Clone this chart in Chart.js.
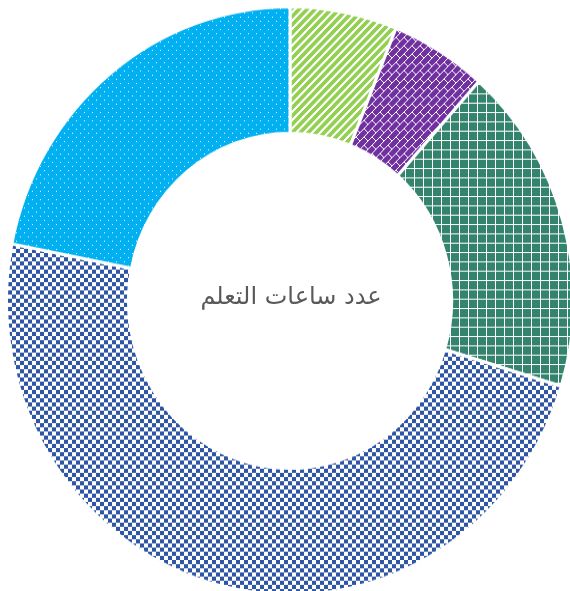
<!DOCTYPE html>
<html>
<head>
<meta charset="utf-8">
<script src="https://cdn.jsdelivr.net/npm/chart.js@4.4.1/dist/chart.umd.min.js"></script>
<style>
  html, body { margin: 0; padding: 0; width: 570px; height: 591px; overflow: hidden; background: #fff; }
  #wrap { position: absolute; left: 0; top: 0; width: 580px; height: 580px; transform: scale(1, 1.037); transform-origin: 0 0; }
  #centerText { position: absolute; left: 0; width: 582px; top: 282px; line-height: 28px; text-align: center;
    font-family: "DejaVu Sans", sans-serif; font-size: 24px; color: #595959; direction: rtl; }
</style>
</head>
<body>
<div id="wrap"><canvas id="chart" width="580" height="580"></canvas></div>
<div id="centerText">عدد ساعات التعلم</div>
<script>
// shares of learning hours, clockwise from the top
const labels = ['الفئة 1', 'الفئة 2', 'الفئة 3', 'الفئة 4', 'الفئة 5'];
const hours = [6.1, 5.5, 18.1, 48.4, 21.9];
const colors = ['#92d050', '#7030a0', '#33836d', '#2f55a5', '#00b0f0'];

const canvas = document.getElementById('chart');
const ctx = canvas.getContext('2d');

// build a repeating pattern from rows of bits ('1' = white pixel)
function bitPattern(rows, color) {
  const c = document.createElement('canvas');
  c.width = rows[0].length;
  c.height = rows.length;
  const t = c.getContext('2d');
  t.fillStyle = color;
  t.fillRect(0, 0, c.width, c.height);
  t.fillStyle = '#ffffff';
  rows.forEach((row, y) => {
    for (let x = 0; x < row.length; x++) {
      if (row[x] === '1') t.fillRect(x, y, 1, 1);
    }
  });
  return ctx.createPattern(c, 'repeat');
}

const stripes = bitPattern([
  '10000011', '00000111', '00001110', '00011100',
  '00111000', '01110000', '11100000', '11000001'
], colors[0]);

const bricks = bitPattern([
  '00000001', '00000010', '00000100', '00001000',
  '00011000', '00100100', '01000010', '10000001'
], colors[1]);

const grid = bitPattern([
  '111111111', '100000000', '100000000', '100000000', '100000000',
  '100000000', '100000000', '100000000', '100000000'
], colors[2]);

const checker = bitPattern([
  '00001111', '00001111', '00001111', '00001111',
  '11110000', '11110000', '11110000', '11110000'
], colors[3]);

const dots = bitPattern([
  '10000000', '00000000', '00000000', '00000000',
  '00001000', '00000000', '00000000', '00000000'
], colors[4]);

new Chart(ctx, {
  type: 'doughnut',
  data: {
    labels: labels,
    datasets: [{
      data: hours,
      backgroundColor: [stripes, bricks, grid, checker, dots],
      borderColor: '#ffffff',
      borderWidth: 3
    }]
  },
  options: {
    responsive: false,
    animation: false,
    devicePixelRatio: 1,
    events: [],
    cutout: '57%',
    layout: { padding: 5 },
    plugins: {
      legend: { display: false },
      tooltip: { enabled: false }
    }
  }
});
</script>
</body>
</html>
